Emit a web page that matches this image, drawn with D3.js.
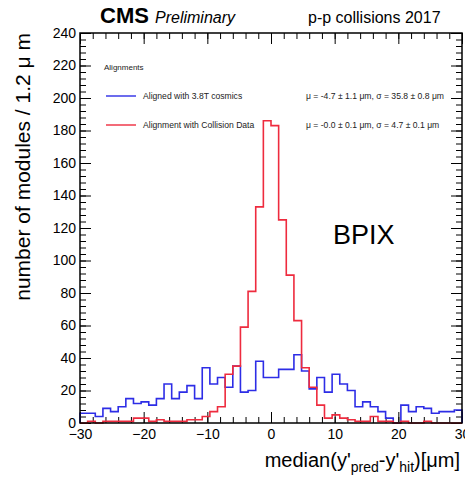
<!DOCTYPE html>
<html><head><meta charset="utf-8">
<script src="https://cdn.jsdelivr.net/npm/d3@7/dist/d3.min.js"></script>
<style>
body{margin:0;background:#fff}
text{font-family:"Liberation Sans",Arial,Helvetica,sans-serif}
</style>
</head><body>
<svg id="chart" width="465" height="484"></svg>
<script>
// ---- data ----
const binStart = -30;
const binWidth = 1.2;
const blueCounts = [6,6,4,9,7,10,15,12,13,11,15,24,15,19,23,15,34,24,28,22,35,19,20,38,28,28,33,33,42,32,21,28,19,30,24,20,10,13,10,7,3,0,11,7,10,9,6,7,7,8];
const redCounts  = [0,1,0,1,1,1,1,3,3,1,2,1,1,1,2,2,4,7,10,30,35,59,81,133,186,183,125,91,63,34,22,11,3,5,3,2,1,1,4,1,1,0,1,0,0,1,0,0,0,0];
const xTicks = [-30,-20,-10,0,10,20,30];
const yTicks = [0,20,40,60,80,100,120,140,160,180,200,220,240];
const legendLabels = ["Aligned with 3.8T cosmics","Alignment with Collision Data"];
const legendStats = ["\u03bc = -4.7 \u00b1 1.1 \u03bcm,  \u03c3 = 35.8 \u00b1 0.8 \u03bcm","\u03bc = -0.0 \u00b1 0.1 \u03bcm,  \u03c3 = 4.7 \u00b1 0.1 \u03bcm"];
const seriesColors = ["#2d2de6","#ee2b3e"];

// ---- layout ----
const L = 80, R = 462, T = 33, B = 423;
const svg = d3.select("#chart");
const x = d3.scaleLinear().domain([-30,30]).range([L,R]);
const y = d3.scaleLinear().domain([0,240]).range([B,T]);

const xMinor = d3.range(-30,30.001,2);
const yMinor = d3.range(0,240.001,4);

function axisG(axis, tx, ty){
  const g = svg.append("g").attr("transform",`translate(${tx},${ty})`).call(axis);
  g.select(".domain").remove();
  g.selectAll("line").attr("stroke","#000").attr("stroke-width",1);
  return g;
}
// bottom
axisG(d3.axisBottom(x).tickValues(xMinor).tickSize(-6).tickFormat(""),0,B);
const xb = axisG(d3.axisBottom(x).tickValues(xTicks).tickSize(-11).tickPadding(6)
  .tickFormat(d=> d<0 ? "\u2212"+Math.abs(d) : d),0,B);
xb.selectAll("text").attr("font-size",14).attr("fill","#000");
// top
axisG(d3.axisTop(x).tickValues(xMinor).tickSize(-6).tickFormat(""),0,T);
axisG(d3.axisTop(x).tickValues(xTicks).tickSize(-11).tickFormat(""),0,T);
// left
axisG(d3.axisLeft(y).tickValues(yMinor).tickSize(-6).tickFormat(""),L,0);
const yl = axisG(d3.axisLeft(y).tickValues(yTicks).tickSize(-11).tickPadding(4),L,0);
yl.selectAll("text").attr("font-size",14).attr("fill","#000");
// right
axisG(d3.axisRight(y).tickValues(yMinor).tickSize(-6).tickFormat(""),R,0);
axisG(d3.axisRight(y).tickValues(yTicks).tickSize(-11).tickFormat(""),R,0);

// histograms
function stepPath(counts){
  const p = d3.path();
  p.moveTo(x(binStart), y(0));
  counts.forEach((c,i)=>{
    const x0 = x(binStart+i*binWidth), x1 = x(binStart+(i+1)*binWidth);
    p.lineTo(x0, y(c)); p.lineTo(x1, y(c));
  });
  p.lineTo(x(binStart+counts.length*binWidth), y(0));
  return p.toString();
}
[blueCounts, redCounts].forEach((c,i)=>{
  svg.append("path").attr("d",stepPath(c)).attr("fill","none")
    .attr("stroke",seriesColors[i]).attr("stroke-width",1.6).attr("stroke-linejoin","miter");
});

// frame
svg.append("rect").attr("x",L).attr("y",T).attr("width",R-L).attr("height",B-T)
  .attr("fill","none").attr("stroke","#000").attr("stroke-width",1.5);

// legend
svg.append("text").attr("x",104).attr("y",70).attr("font-size",8).attr("fill","#222").text("Alignments");
legendLabels.forEach((t,i)=>{
  const ly = 96 + i*29;
  svg.append("line").attr("x1",106).attr("x2",136).attr("y1",ly).attr("y2",ly)
    .attr("stroke",seriesColors[i]).attr("stroke-width",1.4);
  svg.append("text").attr("x",143).attr("y",ly+3).attr("font-size",8.6).attr("fill","#222").text(t);
  svg.append("text").attr("x",306).attr("y",ly+3).attr("font-size",8.6).attr("fill","#222").text(legendStats[i]);
});

// header
svg.append("text").attr("x",100).attr("y",23).attr("font-size",22).attr("font-weight","bold").text("CMS");
svg.append("text").attr("x",155).attr("y",23).attr("font-size",16).attr("font-style","italic").text("Preliminary");
svg.append("text").attr("x",308).attr("y",23).attr("font-size",16).text("p-p collisions 2017");

// BPIX
svg.append("text").attr("x",333).attr("y",244).attr("font-size",27).text("BPIX");

// axis titles
const xt = svg.append("text").attr("x",460).attr("y",467).attr("text-anchor","end").attr("font-size",20);
xt.append("tspan").text("median(y'");
xt.append("tspan").attr("font-size",14).attr("dy",5).text("pred");
xt.append("tspan").attr("dy",-5).text("-y'");
xt.append("tspan").attr("font-size",14).attr("dy",5).text("hit");
xt.append("tspan").attr("dy",-5).text(")[\u03bcm]");

svg.append("text").attr("transform","translate(30,33) rotate(-90)")
  .attr("text-anchor","end").attr("font-size",21).text("number of modules / 1.2 \u03bc m");
</script>
</body></html>
